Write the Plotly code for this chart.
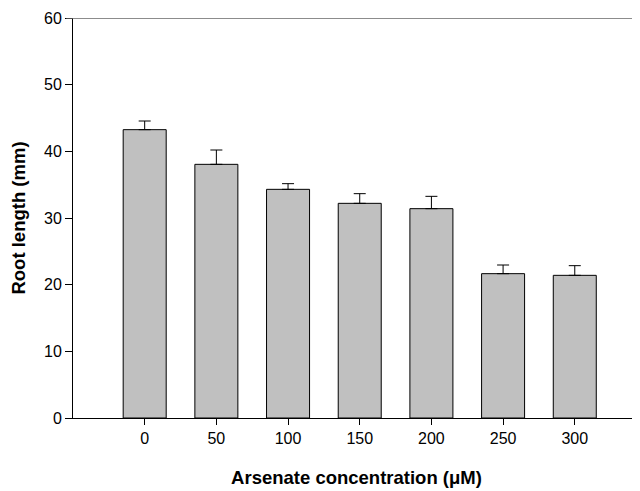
import plotly.graph_objects as go

concentration = [0, 50, 100, 150, 200, 250, 300]
root_length = [43.25, 38.05, 34.3, 32.2, 31.4, 21.65, 21.4]
std_error = [1.3, 2.15, 0.85, 1.45, 1.85, 1.3, 1.45]
x_ticks = [0, 50, 100, 150, 200, 250, 300]
y_ticks = [0, 10, 20, 30, 40, 50, 60]

fig = go.Figure()
fig.add_trace(go.Bar(
    x=concentration, y=root_length, width=30,
    marker=dict(color="#c0c0c0", line=dict(color="black", width=1)),
    error_y=dict(type="data", array=std_error, arrayminus=[0]*len(std_error),
                 symmetric=False, color="black", thickness=1, width=6),
))

fig.add_shape(type="line", xref="paper", yref="y", x0=-0.012, x1=1, y0=60, y1=60,
              line=dict(color="#666666", width=1.5))

font = "Liberation Sans, Arial, sans-serif"
fig.update_layout(
    width=632, height=483,
    margin=dict(l=65, r=0, t=10, b=73, pad=0),
    paper_bgcolor="white", plot_bgcolor="white",
    showlegend=False,
    font=dict(family=font, size=16, color="black"),
    xaxis=dict(range=[-50, 345.5], tickvals=x_ticks, ticktext=[str(v) for v in x_ticks],
               showgrid=False, zeroline=False, showline=True, linecolor="black", linewidth=1,
               ticks="outside", ticklen=6, tickcolor="black",
               title=dict(text="<b>Arsenate concentration (μM)</b>", font=dict(size=18.5), standoff=24)),
    yaxis=dict(range=[0, 60], tickvals=y_ticks,
               showgrid=False, zeroline=False, showline=True, linecolor="black", linewidth=1,
               ticks="outside", ticklen=7, tickcolor="black",
               title=dict(text="<b>Root length (mm)</b>", font=dict(size=18.5), standoff=14)),
)

fig.write_html("out.html")
